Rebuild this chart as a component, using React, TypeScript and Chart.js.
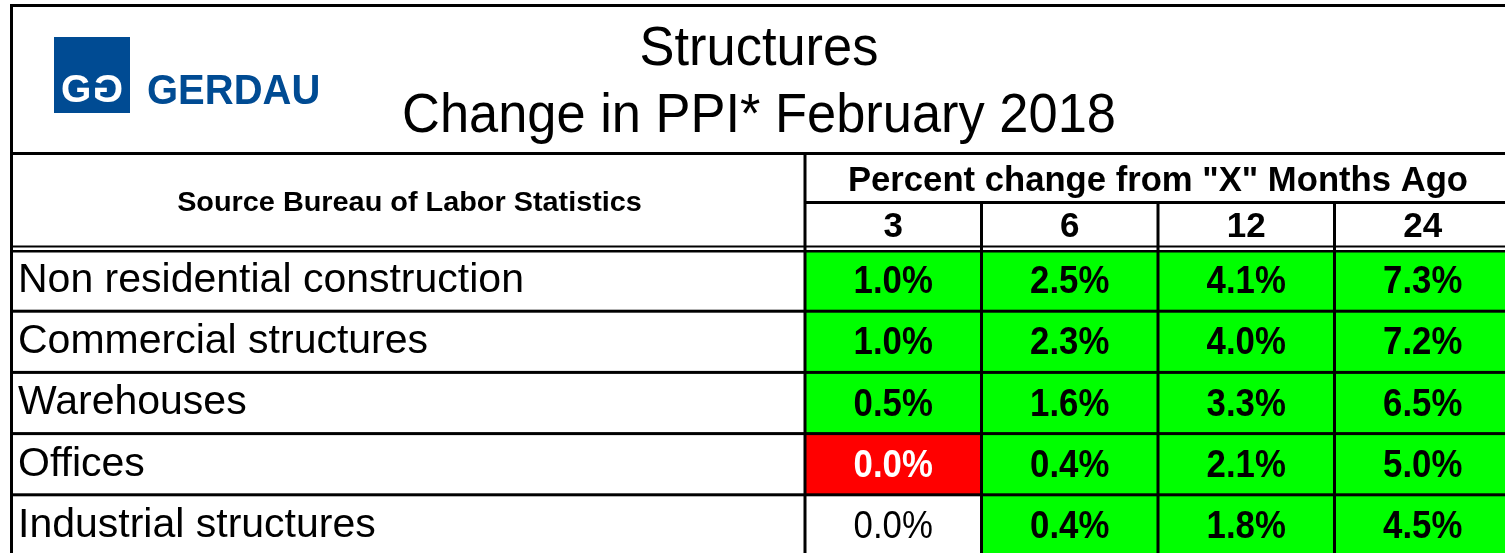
import React, { useEffect, useRef } from "react";
import { Chart, registerables } from "chart.js";

Chart.register(...registerables);

// ---------------- data ----------------
const TITLE_LINES = ["Structures", "Change in PPI* February 2018"];
const BRAND = "GERDAU";
const SOURCE_LABEL = "Source Bureau of Labor Statistics";
const HEADER_LABEL = 'Percent change from "X" Months Ago';
const MONTHS = ["3", "6", "12", "24"];
const ROWS = [
  "Non residential construction",
  "Commercial structures",
  "Warehouses",
  "Offices",
  "Industrial structures",
];
// percent change from 3, 6, 12 and 24 months ago
const CHANGE_3M = [1.0, 1.0, 0.5, -0.02, 0.0]; // Offices: red cell, rounds to 0.0% (slightly negative)
const CHANGE_6M = [2.5, 2.3, 1.6, 0.4, 0.4];
const CHANGE_12M = [4.1, 4.0, 3.3, 2.1, 1.8];
const CHANGE_24M = [7.3, 7.2, 6.5, 5.0, 4.5];
const SERIES = [CHANGE_3M, CHANGE_6M, CHANGE_12M, CHANGE_24M];

// ---------------- styling ----------------
const W = 1512;
const H = 560;
const FONT = '"Liberation Sans", Arial, Helvetica, sans-serif';
const GREEN = "#00ff00";
const RED = "#ff0000";
const BLUE = "#004b93";

const cellColor = (v: number) => (v > 0 ? GREEN : v < 0 ? RED : "#ffffff");
const fmt = (v: number) => (Math.round(v * 10) / 10).toFixed(1) + "%";

function drawText(
  ctx: CanvasRenderingContext2D,
  str: string,
  x: number,
  y: number,
  size: number,
  weight: string,
  color: string,
  sx = 1,
  align: CanvasTextAlign = "center"
) {
  ctx.save();
  ctx.font = `${weight} ${size}px ${FONT}`;
  ctx.fillStyle = color;
  ctx.textAlign = align;
  ctx.textBaseline = "alphabetic";
  ctx.translate(x, y);
  ctx.scale(sx, 1);
  ctx.fillText(str, 0, 0);
  ctx.restore();
}

const tablePlugin = {
  id: "tableDecor",
  beforeDraw(chart: any) {
    const ctx = chart.ctx as CanvasRenderingContext2D;
    ctx.save();
    ctx.fillStyle = "#ffffff";
    ctx.fillRect(0, 0, chart.width, chart.height);
    ctx.restore();
  },
  afterDatasetsDraw(chart: any) {
    const ctx = chart.ctx as CanvasRenderingContext2D;
    SERIES.forEach((vals, c) => {
      const meta = chart.getDatasetMeta(c);
      meta.data.forEach((bar: any, r: number) => {
        const v = vals[r];
        const p = bar.getCenterPoint();
        const color = v < 0 ? "#ffffff" : "#000000";
        const weight = v === 0 ? "normal" : "bold";
        drawText(ctx, fmt(v), p.x, p.y + 12.5, 38, weight, color, 0.915);
      });
    });
  },
  afterDraw(chart: any) {
    const ctx = chart.ctx as CanvasRenderingContext2D;
    const xs = chart.scales.x;
    const ys = chart.scales.y;
    const ca = chart.chartArea;
    const L = 10;
    const R = chart.width + 10;
    const xDiv = xs.getPixelForValue(0);
    ctx.save();
    ctx.fillStyle = "#000000";
    // header box
    ctx.fillRect(L, 4, R, 3);
    ctx.fillRect(L, 4, 3, 150);
    // table frame
    ctx.fillRect(L, 152, R, 3);
    ctx.fillRect(L, 152, 3, chart.height);
    ctx.fillRect(xDiv - 1.5, 152, 3, chart.height);
    // sub header separator
    ctx.fillRect(xDiv, 201, R, 3);
    // column lines
    for (let i = 1; i < MONTHS.length; i++) {
      const cx = xs.getPixelForValue(i);
      ctx.fillRect(cx - 1.5, 201, 3, chart.height);
    }
    // double line below headers
    ctx.fillRect(L, 245.5, R, 2);
    ctx.fillRect(L, ca.top, R, 2.5);
    // row lines
    for (let i = 1; i < ROWS.length; i++) {
      const ry = (ys.getPixelForValue(i - 1) + ys.getPixelForValue(i)) / 2;
      ctx.fillRect(L, ry - 1.5, R, 3);
    }
    ctx.restore();

    // title
    const titleX = 759;
    drawText(ctx, TITLE_LINES[0], titleX, 65, 56, "normal", "#000", 0.936);
    drawText(ctx, TITLE_LINES[1], titleX, 132, 56, "normal", "#000", 0.936);

    // header texts
    drawText(ctx, SOURCE_LABEL, (L + xDiv) / 2 + 2, 211, 28, "bold", "#000", 1.03);
    drawText(ctx, HEADER_LABEL, (xDiv + ca.right) / 2, 191, 35, "bold", "#000", 0.99);

    // logo
    ctx.save();
    ctx.fillStyle = BLUE;
    ctx.fillRect(54, 37, 76, 76);
    ctx.restore();
    drawText(ctx, "G", 61, 102, 39, "bold", "#fff", 1.0, "left");
    ctx.save();
    ctx.translate(123, 0);
    ctx.scale(-1, 1);
    drawText(ctx, "G", 0, 102, 39, "bold", "#fff", 1.0, "left");
    ctx.restore();
    drawText(ctx, BRAND, 147, 104, 43, "bold", BLUE, 0.93, "left");
  },
};

export default function App() {
  const canvasRef = useRef<HTMLCanvasElement | null>(null);

  useEffect(() => {
    const canvas = canvasRef.current;
    if (!canvas) return;
    const chart = new Chart(canvas, {
      type: "bar",
      data: {
        labels: ROWS,
        datasets: SERIES.map((vals, c) => ({
          label: MONTHS[c],
          data: vals.map(() => [c, c + 1]) as any,
          backgroundColor: vals.map(cellColor),
          borderWidth: 0,
          grouped: false,
          barPercentage: 1,
          categoryPercentage: 1,
        })),
      },
      options: {
        indexAxis: "y",
        responsive: false,
        animation: false,
        devicePixelRatio: 1,
        events: [],
        layout: { padding: { top: 153, left: 18, right: 1, bottom: 4 } },
        plugins: {
          legend: { display: false },
          tooltip: { enabled: false },
          title: { display: false },
        },
        scales: {
          x: {
            type: "linear",
            position: "top",
            min: 0,
            max: MONTHS.length,
            grid: { display: false, drawTicks: false },
            border: { display: false },
            afterFit: (s: any) => {
              s.height = 97;
              s.paddingLeft = 0;
              s.paddingRight = 0;
            },
            afterBuildTicks: (s: any) => {
              s.ticks = MONTHS.map((_, i) => ({ value: i + 0.5 }));
            },
            ticks: {
              callback: (_v: any, i: number) => MONTHS[i],
              font: { family: FONT, size: 35, weight: "bold" },
              color: "#000",
              padding: 2,
              maxRotation: 0,
              autoSkip: false,
            },
          },
          y: {
            type: "category",
            position: "left",
            offset: true,
            grid: { display: false, drawTicks: false },
            border: { display: false },
            afterFit: (s: any) => {
              s.width = 787;
              s.paddingTop = 0;
              s.paddingBottom = 0;
            },
            ticks: {
              crossAlign: "far",
              font: { family: FONT, size: 41 },
              color: "#000",
              padding: 0,
              autoSkip: false,
            },
          },
        },
      } as any,
      plugins: [tablePlugin],
    });
    return () => chart.destroy();
  }, []);

  return (
    <div
      style={{
        position: "fixed",
        left: 0,
        top: 0,
        width: 1505,
        height: 553,
        overflow: "hidden",
        background: "#fff",
      }}
    >
      <canvas ref={canvasRef} width={W} height={H} style={{ display: "block" }} />
    </div>
  );
}
